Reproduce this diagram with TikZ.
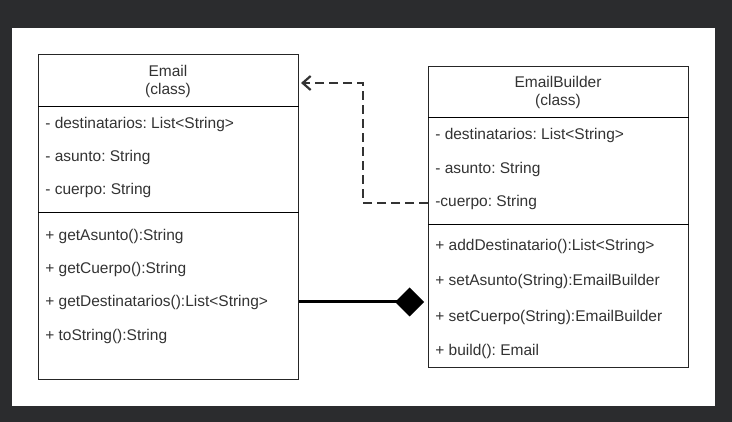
\documentclass[tikz,border=0pt]{standalone}
\usepackage{fontspec}
\setmainfont{Liberation Sans}
\usetikzlibrary{arrows.meta}
\usetikzlibrary{positioning}
\usetikzlibrary{calc}

\definecolor{screen}{HTML}{2B2C2E}
\definecolor{umltext}{HTML}{333333}

\begin{document}
\frenchspacing
\begin{tikzpicture}[x=1pt,y=-1pt,semithick,
					font=\fontsize{15.5}{18}\selectfont]
					\tikzstyle{classbox}=[draw=black!85,line width=1pt,anchor=north west,minimum width=260,inner sep=0pt]
					\tikzstyle{title}=[text=umltext,inner sep=0pt,text height=11,text depth=3.2]
					\tikzstyle{member}=[anchor=west,text=umltext,inner sep=0pt,text height=11,text depth=3.2]
					\tikzstyle{dep}=[draw=black!80,line width=2.8pt,dash pattern=on 9pt off 5pt,
						-{Straight Barb[length=8,width=14,line width=2.2pt]}]
					\tikzstyle{comp}=[draw=black,line width=3pt,shorten >=4pt,
						-{Diamond[length=29,width=29]}]
					
					\useasboundingbox (0,0) rectangle (732,422);
					\fill[screen] (0,0) rectangle (732,422);
					\fill[white] (12,28) rectangle (715,406);
					
					% Email
					\node[classbox,minimum height=325] (Email) at (38,54) {};
					\node[title] (EmailName)  at (168,73) {Email};
					\node[title] (EmailKind)  at (168,91) {(class)};
					\draw[line width=1pt] (Email.west |- 0,107) -- (Email.east |- 0,107);
					\draw[line width=1pt] (Email.west |- 0,213) -- (Email.east |- 0,213);
					\node[member] (eattr1) at (45,125) {- destinatarios: List<String>};
					\node[member] (eattr2) at (45,158) {- asunto: String};
					\node[member] (eattr3) at (45,191) {- cuerpo: String};
					\node[member] (emeth1) at (45,237) {+ getAsunto():String};
					\node[member] (emeth2) at (45,270) {+ getCuerpo():String};
					\node[member] (emeth3) at (45,303) {+ getDestinatarios():List<String>};
					\node[member] (emeth4) at (45,337) {+ toString():String};
					
					% EmailBuilder
					\node[classbox,minimum height=301] (Builder) at (428,66) {};
					\node[title] (BuilderName) at (558,84) {EmailBuilder};
					\node[title] (BuilderKind) at (558,102) {(class)};
					\draw[line width=1pt] (Builder.west |- 0,118) -- (Builder.east |- 0,118);
					\draw[line width=1pt] (Builder.west |- 0,225) -- (Builder.east |- 0,225);
					\node[member] (battr1) at (435,136) {- destinatarios: List<String>};
					\node[member] (battr2) at (435,170) {- asunto: String};
					\node[member] (battr3) at (435,203) {-cuerpo: String};
					\node[member] (bmeth1) at (435,247) {+ addDestinatario():List<String>};
					\node[member] (bmeth2) at (435,282) {+ setAsunto(String):EmailBuilder};
					\node[member] (bmeth3) at (435,318) {+ setCuerpo(String):EmailBuilder};
					\node[member] (bmeth4) at (435,352) {+ build(): Email};
					
					% relations
					\coordinate (bend) at (363,83);
					\draw[dep] (Builder.west |- battr3) -| (bend) -- ([xshift=2pt]Email.east |- bend);
					\draw[comp] (Email.east |- 0,302) -- (Builder.west |- 0,302);
					\end{tikzpicture}
\end{document}
